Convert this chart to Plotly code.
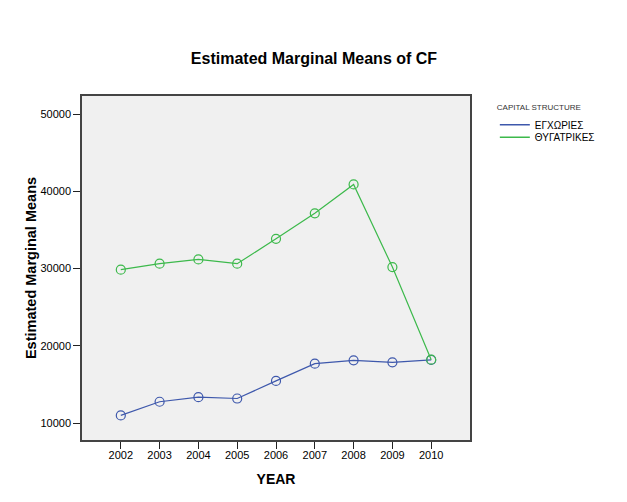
import plotly.graph_objects as go

years = [2002, 2003, 2004, 2005, 2006, 2007, 2008, 2009, 2010]
egchories = [10980, 12750, 13350, 13170, 15450, 17680, 18120, 17860, 18160]
thygatrikes = [29850, 30620, 31170, 30620, 33840, 37140, 40880, 30180, 18200]
series_names = ["ΕΓΧΩΡΙΕΣ", "ΘΥΓΑΤΡΙΚΕΣ"]
y_ticks = [10000, 20000, 30000, 40000, 50000]

colors = ["#3e58ac", "#3cb94b"]
font = "Liberation Sans, Arial, sans-serif"

fig = go.Figure()
for name, vals, c in zip(series_names, [egchories, thygatrikes], colors):
    fig.add_trace(go.Scatter(
        x=years, y=vals, mode="lines+markers", name=name, showlegend=False,
        line=dict(color=c, width=1.2),
        marker=dict(symbol="circle-open", size=9, color=c, line=dict(width=1.2)),
    ))
for name, c, lg in zip(series_names, colors, ["legend", "legend2"]):
    fig.add_trace(go.Scatter(
        x=[None], y=[None], mode="lines", name=name, legend=lg,
        line=dict(color=c, width=1.5),
    ))

leg_common = dict(x=1.064, xanchor="left", yanchor="top",
                  bgcolor="rgba(0,0,0,0)", font=dict(size=10, family=font),
                  itemwidth=30)

fig.update_layout(
    width=627, height=502,
    paper_bgcolor="white", plot_bgcolor="#f0f0f0",
    margin=dict(l=74, r=165, t=88, b=70, autoexpand=False),
    font=dict(family=font, size=11, color="black"),
    title=dict(text="<b>Estimated Marginal Means of CF</b>", x=0.488, xanchor="center",
               xref="container", y=1 - 50 / 502, yanchor="middle",
               font=dict(size=16, family=font, color="black")),
    legend=dict(
        title=dict(text="CAPITAL STRUCTURE", font=dict(size=8, family=font, color="#333")),
        y=0.989, **leg_common,
    ),
    legend2=dict(y=0.922, **leg_common),
    xaxis=dict(
        range=[2001, 2011], tickmode="array", tickvals=years,
        ticktext=[str(y) for y in years],
        showgrid=False, zeroline=False,
        ticks="outside", ticklen=7, tickcolor="#222", tickwidth=1,
        ticklabelstandoff=-3,
        showline=True, linecolor="#444", linewidth=1.5, mirror=True,
        title=dict(text="<b>YEAR</b>", font=dict(size=14, family=font), standoff=14),
    ),
    yaxis=dict(
        range=[7800, 52330], tickmode="array", tickvals=y_ticks,
        ticktext=[str(v) for v in y_ticks],
        showgrid=False, zeroline=False,
        ticks="outside", ticklen=7, tickcolor="#222", tickwidth=1,
        showline=True, linecolor="#444", linewidth=1.5, mirror=True,
        title=dict(text="<b>Estimated Marginal Means</b>", font=dict(size=14.5, family=font), standoff=0),
    ),
)

fig.write_html("out.html")
